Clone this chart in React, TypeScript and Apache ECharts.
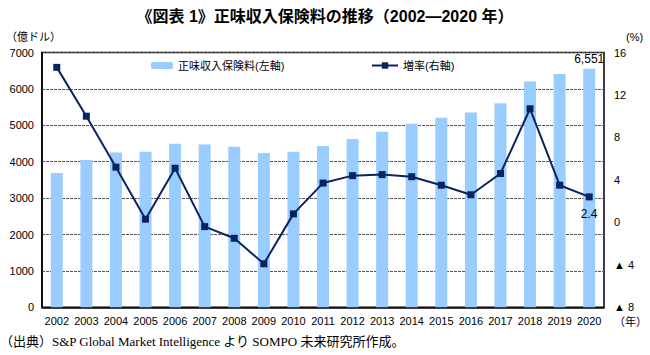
import React, { useEffect, useRef } from "react";
import * as echarts from "echarts";

const years = ["2002","2003","2004","2005","2006","2007","2008","2009","2010","2011","2012","2013","2014","2015","2016","2017","2018","2019","2020"];
const premiums = [3690, 4050, 4255, 4275, 4495, 4475, 4410, 4240, 4275, 4430, 4625, 4825, 5040, 5210, 5355, 5605, 6200, 6410, 6551];
const growth = [14.6, 10.0, 5.2, 0.3, 5.1, -0.4, -1.5, -3.9, 0.8, 3.7, 4.4, 4.5, 4.3, 3.5, 2.6, 4.6, 10.7, 3.5, 2.4];

const barName = "正味収入保険料(左軸)";
const lineName = "増率(右軸)";
const FONT = "'Liberation Sans', 'Noto Sans CJK JP', sans-serif";

export default function App() {
  const ref = useRef<HTMLDivElement>(null);
  useEffect(() => {
    if (!ref.current) return;
    const chart = echarts.init(ref.current, undefined, { renderer: "svg" });
    const last = years.length - 1;
    chart.setOption({
      animation: false,
      textStyle: { fontFamily: FONT },
      title: {
        text: "《図表 1》正味収入保険料の推移（2002—2020 年）",
        left: "center",
        top: 3,
        textStyle: { fontSize: 16, fontWeight: "bold", color: "#000", fontFamily: FONT },
      },
      legend: [
        {
          data: [barName],
          left: 146,
          top: 55,
          itemWidth: 22,
          itemHeight: 7,
          textStyle: { fontSize: 11, color: "#000" },
        },
        {
          data: [lineName],
          left: 366,
          top: 55,
          itemWidth: 26,
          itemHeight: 8,
          textStyle: { fontSize: 11, color: "#000" },
        },
      ],
      grid: { left: 42, right: 46, top: 52.5, bottom: 47.7, show: true, borderColor: "#000", borderWidth: 1.5 },
      xAxis: {
        type: "category",
        data: years,
        axisTick: { show: false },
        axisLine: { lineStyle: { color: "#000", width: 1.5 } },
        axisLabel: { color: "#000", fontSize: 11, margin: 8, interval: 0 },
      },
      yAxis: [
        {
          type: "value",
          min: 0,
          max: 7000,
          interval: 1000,
          axisLine: { show: true, lineStyle: { color: "#000", width: 1.5 } },
          axisTick: { show: false },
          axisLabel: { color: "#000", fontSize: 11, margin: 8, formatter: (v: number) => String(v) },
          splitLine: { show: true, lineStyle: { color: "#555", type: [3, 1], width: 1 } },
        },
        {
          type: "value",
          min: -8,
          max: 16,
          interval: 4,
          axisLine: { show: false },
          axisTick: { show: false },
          axisLabel: {
            color: "#000",
            fontSize: 11,
            margin: 10,
            formatter: (v: number) => (v < 0 ? "▲ " + Math.abs(v) : String(v)),
          },
          splitLine: { show: false },
        },
      ],
      graphic: [
        {
          type: "text",
          left: 6,
          top: 31,
          style: { text: "（億ドル）", fontSize: 11, fill: "#000", fontFamily: FONT },
        },
        {
          type: "text",
          left: 626,
          top: 31,
          style: { text: "(%)", fontSize: 11, fill: "#000", fontFamily: FONT },
        },
        {
          type: "text",
          left: 614,
          top: 316,
          style: { text: "（年）", fontSize: 11, fill: "#000", fontFamily: FONT },
        },
        {
          type: "text",
          left: 0,
          top: 335,
          style: {
            text: "（出典）S&P Global Market Intelligence より SOMPO 未来研究所作成。",
            fontSize: 13,
            fill: "#000",
            fontFamily: "'Liberation Serif', 'Noto Sans CJK JP', serif",
          },
        },
      ],
      series: [
        {
          name: barName,
          type: "bar",
          yAxisIndex: 0,
          data: premiums.map((v, i) =>
            i === last
              ? { value: v, label: { show: true, position: "top", distance: 4, formatter: () => v.toLocaleString("en-US"), color: "#000", fontSize: 12 } }
              : v
          ),
          barWidth: 12,
          itemStyle: { color: "#99CCFF" },
          z: 2,
        },
        {
          name: lineName,
          type: "line",
          yAxisIndex: 1,
          data: growth.map((v, i) =>
            i === last
              ? { value: v, label: { show: true, position: "bottom", distance: 8, formatter: () => v.toFixed(1), color: "#000", fontSize: 12 } }
              : v
          ),
          symbol: "rect",
          symbolSize: 7,
          lineStyle: { color: "#0A2463", width: 2 },
          itemStyle: { color: "#0A2463" },
          z: 3,
        },
      ],
    });
    return () => chart.dispose();
  }, []);
  return <div ref={ref} style={{ width: 650, height: 355, position: "absolute", left: 0, top: 0 }} />;
}
